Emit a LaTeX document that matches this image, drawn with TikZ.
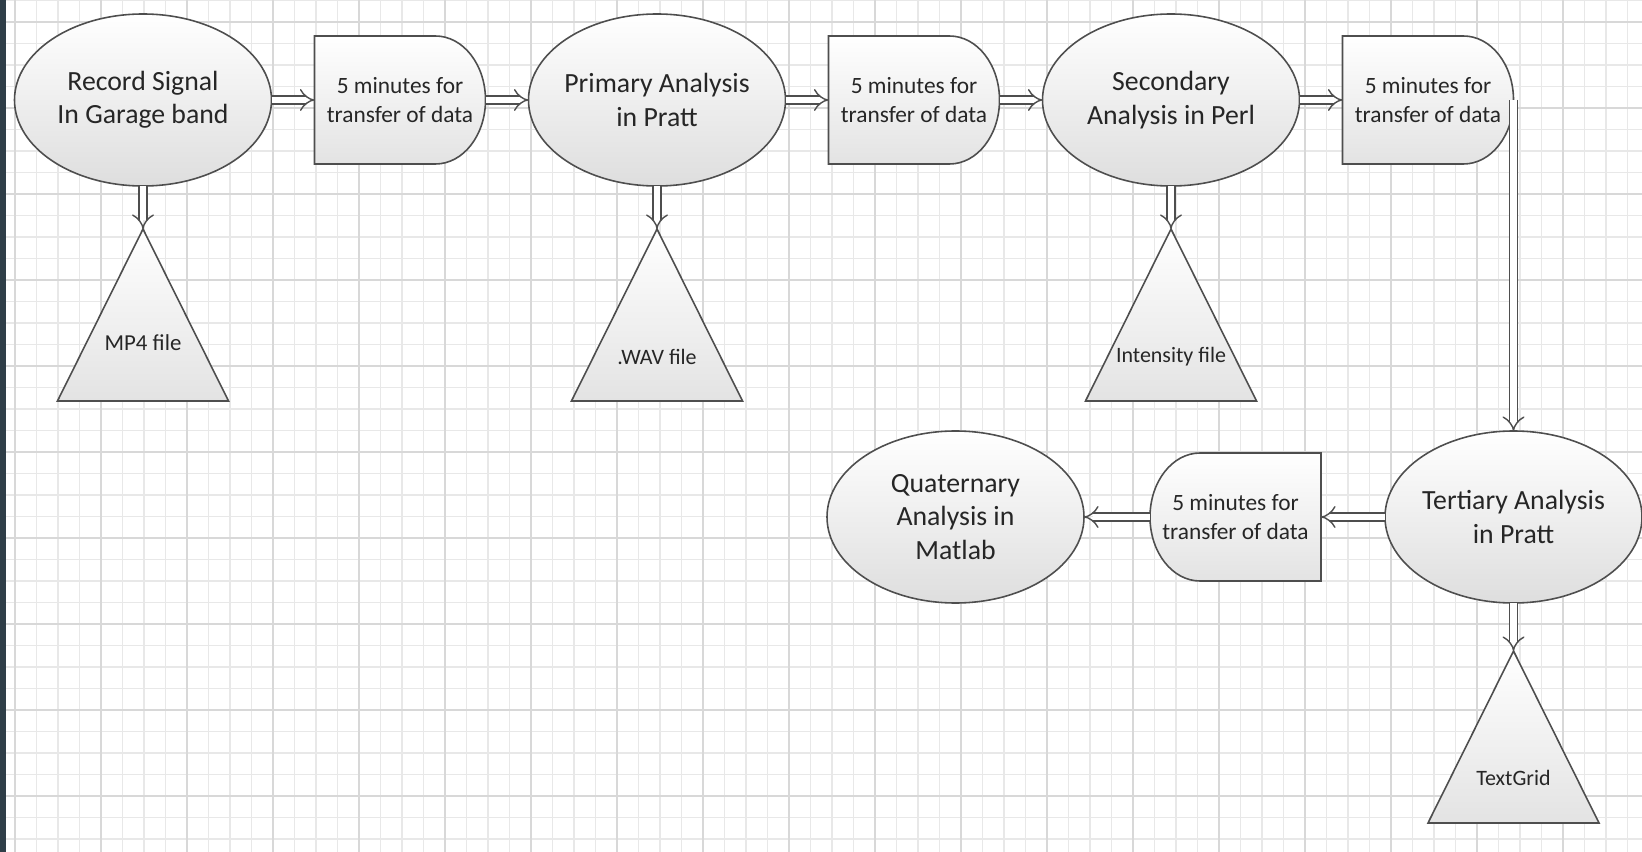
\documentclass[tikz,border=0pt]{standalone}
\usepackage{fontspec}
\setmainfont{Carlito}
\usetikzlibrary{arrows.meta, positioning, shapes.geometric, backgrounds}
\definecolor{edge}{HTML}{4E4E4E}
\definecolor{gridminor}{HTML}{E8E8E8}
\definecolor{gridmajor}{HTML}{D8D8D8}
\definecolor{strip}{HTML}{2F3E48}

\begin{document}
\begin{tikzpicture}[
		node distance=0.86cm,
		every node/.style={text=black!85},
		proc/.style={ellipse, draw=edge, line width=0.9pt, top color=white, bottom color=black!13, minimum width=5.14cm, minimum height=3.44cm, inner xsep=-8mm, inner ysep=0pt, outer sep=0pt, align=center, font=\fontsize{15.8}{19}\selectfont},
		delay/.style={minimum width=3.42cm, minimum height=2.56cm, inner sep=0pt, outer sep=0pt, align=center, font=\fontsize{13.3}{16}\selectfont},
		output/.style={minimum width=3.42cm, minimum height=3.44cm, inner sep=0pt, outer sep=0pt},
		outtext/.style={inner sep=0pt, font=\fontsize{12.5}{15}\selectfont},
		shapeline/.style={draw=edge, line width=0.9pt, top color=white, bottom color=black!11},
		flow/.style={draw=edge, line width=0.8pt, double=white, double distance=3.6pt, -{Implies}}
		]
		\useasboundingbox (0,0) rectangle (32.84,-17.04);
		
		% Paper
		\begin{scope}[on background layer]
			\fill[white] (0,0) rectangle (32.84,-17.04);
			\foreach \i in {0,...,75}
			\draw[gridminor, line width=0.6pt] ({0.3+0.43*\i},0) -- ++(0,-17.04);
			\foreach \j in {0,...,39}
			\draw[gridminor, line width=0.6pt] (0,{-0.01-0.43*\j}) -- ++(32.84,0);
			\foreach \i in {0,...,18}
			\draw[gridmajor, line width=0.7pt] ({0.3+1.72*\i},0) -- ++(0,-17.04);
			\foreach \j in {0,...,9}
			\draw[gridmajor, line width=0.7pt] (0,{-0.44-1.72*\j}) -- ++(32.84,0);
			\fill[strip] (0,0) rectangle (0.12,-17.04);
		\end{scope}
		
		% Steps 
		\node[proc] (recordnode) at (2.86,-2) {Record Signal\\In Garage band};
		\node[delay, right=of recordnode] (transfer1) {5 minutes for\\transfer of data};
		\node[proc, right=of transfer1] (primarynode) {Primary Analysis\\in Pratt};
		\node[delay, right=of primarynode] (transfer2) {5 minutes for\\transfer of data};
		\node[proc, right=of transfer2] (secondarynode) {Secondary\\Analysis in Perl};
		\node[delay, right=of secondarynode] (transfer3) {5 minutes for\\transfer of data};
		\node[proc, below=6.62cm of transfer3.east] (tertiarynode) {Tertiary Analysis\\in Pratt};
		\node[delay, left=1.28cm of tertiarynode] (transfer4) {5 minutes for\\transfer of data};
		\node[proc, left=1.32cm of transfer4] (quaternarynode) {Quaternary\\Analysis in\\Matlab};
		
		% Files
		\node[output, below=of recordnode] (mpnode) {};
		\node[outtext, font=\fontsize{13}{15}\selectfont] at ([yshift=1.16cm]mpnode.south) (mptext) {MP4 file};
		\node[output, below=of primarynode] (wavnode) {};
		\node[outtext] at ([yshift=0.88cm]wavnode.south) (wavtext) {.WAV file};
		\node[output, below=of secondarynode] (intnode) {};
		\node[outtext] at ([yshift=0.88cm]intnode.south) (inttext) {Intensity file};
		\node[output, below=0.96cm of tertiarynode] (gridnode) {};
		\node[outtext] at ([yshift=0.9cm]gridnode.south) (gridtext) {TextGrid};
		
		\begin{scope}[on background layer]
			\foreach \n in {transfer1,transfer2,transfer3}
			\draw[shapeline] (\n.south west) -- (\n.north west) -- ([xshift=-1cm]\n.north east) arc[start angle=90, end angle=-90, x radius=1cm, y radius=1.28cm] -- cycle;
			\draw[shapeline] (transfer4.south east) -- (transfer4.north east) -- ([xshift=1cm]transfer4.north west) arc[start angle=90, end angle=270, x radius=1cm, y radius=1.28cm] -- cycle;
			\foreach \n in {mpnode,wavnode,intnode,gridnode}
			\draw[shapeline] (\n.north) -- (\n.south east) -- (\n.south west) -- cycle;
		\end{scope}
		
		% Connectors
		\draw[flow] (recordnode) -- (transfer1);
		\draw[flow] (transfer1) -- (primarynode);
		\draw[flow] (primarynode) -- (transfer2);
		\draw[flow] (transfer2) -- (secondarynode);
		\draw[flow] (secondarynode) -- (transfer3);
		\draw[flow] (transfer3.east) -- (tertiarynode.north);
		\draw[flow] (tertiarynode) -- (transfer4);
		\draw[flow] (transfer4) -- (quaternarynode);
		\draw[flow] (recordnode) -- (mpnode.north);
		\draw[flow] (primarynode) -- (wavnode.north);
		\draw[flow] (secondarynode) -- (intnode.north);
		\draw[flow] (tertiarynode) -- (gridnode.north);
		
	\end{tikzpicture}
\end{document}
